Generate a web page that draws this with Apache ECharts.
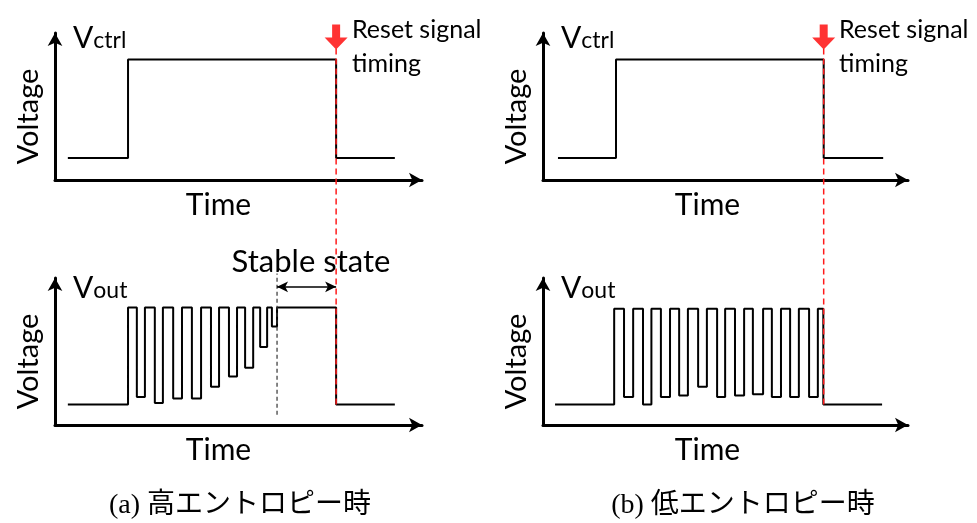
<!DOCTYPE html>
<html>
<head>
<meta charset="utf-8">
<script src="https://cdn.jsdelivr.net/npm/echarts@6/dist/echarts.min.js"></script>
<style>
html,body{margin:0;padding:0;background:#fff;}
#c{width:977px;height:523px;}
</style>
</head>
<body>
<div id="c"></div>
<script>
// ---- data (arbitrary time units 0..100, voltage units 0..10) ----
const vctrlA_t = [3.5, 19.9, 76.6, 92.6];
const vctrlA_v = [1.5, 8.2, 1.5, 1.5];
const vctrlB_t = [4.1, 20.0, 76.9, 93.2];
const vctrlB_v = [1.5, 8.2, 1.5, 1.5];

const voutA_t = [3.5, 19.9, 22.3, 24.5, 27.2, 29.4, 32.2, 34.6, 37.3, 39.8, 42.5, 44.7, 47.4, 49.6, 51.8, 54.0, 55.9, 57.8, 59.1, 60.5, 76.6, 92.6];
const voutA_v = [1.4, 8.0, 1.9, 8.0, 1.5, 8.0, 1.8, 8.0, 1.8, 8.0, 2.6, 8.0, 3.3, 8.0, 3.9, 8.0, 5.3, 8.0, 6.7, 8.0, 1.4, 1.4];

const voutB_t = [3.3, 19.5, 22.2, 24.7, 27.4, 29.7, 32.3, 34.8, 37.3, 39.7, 42.5, 44.9, 47.7, 49.9, 52.6, 55.1, 57.5, 60.3, 62.7, 65.2, 67.7, 70.1, 72.9, 75.3, 76.8, 92.9];
const voutB_v = [1.4, 7.9, 1.9, 7.9, 1.4, 7.9, 1.9, 7.9, 2.0, 7.9, 2.6, 7.9, 1.9, 7.9, 2.0, 7.9, 2.1, 7.9, 1.9, 7.9, 1.9, 7.9, 1.9, 7.9, 1.4, 1.4];

const resetA = 76.6, resetB = 76.9;
const stableStart = 60.5;
const stableArrowLevel = 9.4;
const resetLineRange = [1.4, 25.6];   // overlay voltage units
const resetArrowLevel = 26.4;
const labelsAxis = { x: 'Time', y: 'Voltage' };
const captions = ['(a) 高エントロピー時', '(b) 低エントロピー時'];

// ---- helpers ----
const zip = (t, v) => t.map((x, i) => [x, v[i]]);
const FONT = 'Lato, "Noto Sans", sans-serif';

function panelGrid(left, top, width) {
  return { left: left, top: top, width: width, height: 147, outerBoundsMode: 'none', containLabel: false };
}
function xAx(gi, shift) {
  return {
    gridIndex: gi, type: 'value', min: 0, max: 100,
    name: labelsAxis.x, nameLocation: 'middle', nameGap: 10,
    nameTextStyle: { fontFamily: FONT, fontSize: 30, color: '#000', verticalAlign: 'top', padding: [0, shift, 0, 0] },
    axisLine: { show: true, onZero: false, symbol: ['none', 'arrow'], symbolSize: [11, 13], lineStyle: { color: '#000', width: 3 } },
    axisTick: { show: false }, axisLabel: { show: false }, splitLine: { show: false }
  };
}
function yAx(gi) {
  return {
    gridIndex: gi, type: 'value', min: 0, max: 10,
    name: labelsAxis.y, nameLocation: 'middle', nameGap: 12, nameRotate: 90,
    nameTextStyle: { fontFamily: FONT, fontSize: 29, color: '#000', padding: [0, 20, 0, 0] },
    axisLine: { show: true, onZero: false, symbol: ['none', 'arrow'], symbolSize: [11, 13], lineStyle: { color: '#000', width: 3 } },
    axisTick: { show: false }, axisLabel: { show: false }, splitLine: { show: false }
  };
}
function hiddenX(gi) { return { gridIndex: gi, type: 'value', min: 0, max: 100, show: false }; }
function hiddenY(gi) { return { gridIndex: gi, type: 'value', min: 0, max: 27.55, show: false }; }

function stepSeries(xi, data) {
  return { type: 'line', xAxisIndex: xi, yAxisIndex: xi, data: data, step: 'end', symbol: 'none',
    lineStyle: { color: '#000', width: 2 }, animation: false, z: 3 };
}
const arrowPath = 'path://M6.5,0 L14.5,0 L14.5,13 L22,13 L10.5,25 L-1,13 L6.5,13 Z';
function resetSeries(xi, t) {
  return [
    { type: 'line', xAxisIndex: xi, yAxisIndex: xi, data: [[t, resetLineRange[0]], [t, resetLineRange[1]]],
      symbol: 'none', lineStyle: { color: '#ff1a1a', width: 1.5, type: [6, 4] }, animation: false, z: 10, silent: true },
    { type: 'scatter', xAxisIndex: xi, yAxisIndex: xi, data: [[t, resetArrowLevel]], symbol: arrowPath,
      symbolSize: [23, 25], symbolKeepAspect: false, itemStyle: { color: '#ff0000' }, animation: false, z: 10, silent: true }
  ];
}

function vLabel(x, y, sub) {
  return { type: 'text', x: x, y: y, style: {
    text: '{v|V}{s|' + sub + '}', align: 'left', verticalAlign: 'bottom',
    rich: { v: { fontFamily: FONT, fontSize: 30, fill: '#000', verticalAlign: 'bottom' },
            s: { fontFamily: FONT, fontSize: 23, fill: '#000', verticalAlign: 'bottom', padding: [0, 0, 1, 0] } } } };
}
function resetLabel(x) {
  return { type: 'text', x: x, y: 47, style: { text: 'Reset signal\ntiming', fontFamily: FONT, fontSize: 25,
    lineHeight: 34, fill: '#000', align: 'left', verticalAlign: 'middle' } };
}

const chart = echarts.init(document.getElementById('c'), null, { renderer: 'canvas' });
chart.setOption({
  backgroundColor: '#fff',
  animation: false,
  grid: [
    panelGrid(55, 33, 367), panelGrid(55, 278, 367),
    panelGrid(543, 33, 365), panelGrid(543, 278, 365),
    { left: 55, top: 20, width: 367, height: 405, outerBoundsMode: 'none' },
    { left: 543, top: 20, width: 365, height: 405, outerBoundsMode: 'none' }
  ],
  xAxis: [xAx(0, 40), xAx(1, 40), xAx(2, 36), xAx(3, 36), hiddenX(4), hiddenX(5)],
  yAxis: [yAx(0), yAx(1), yAx(2), yAx(3), hiddenY(4), hiddenY(5)],
  series: [
    stepSeries(0, zip(vctrlA_t, vctrlA_v)),
    stepSeries(1, zip(voutA_t, voutA_v)),
    stepSeries(2, zip(vctrlB_t, vctrlB_v)),
    stepSeries(3, zip(voutB_t, voutB_v)),
    { type: 'line', xAxisIndex: 1, yAxisIndex: 1, data: [[stableStart, 0.7], [stableStart, 10.3]], clip: false,
      symbol: 'none', lineStyle: { color: '#333', width: 1.2, type: [4, 3] }, animation: false, z: 4,
      markLine: { silent: true, symbol: ['arrow', 'arrow'], symbolSize: [8, 11], animation: false,
        lineStyle: { color: '#000', width: 1.5, type: 'solid' }, label: { show: false },
        data: [[{ coord: [stableStart, stableArrowLevel] }, { coord: [resetA, stableArrowLevel] }]] } },
    ...resetSeries(4, resetA),
    ...resetSeries(5, resetB)
  ],
  graphic: [
    vLabel(73, 53, 'ctrl'), vLabel(73, 303, 'out'),
    vLabel(561, 53, 'ctrl'), vLabel(561, 303, 'out'),
    resetLabel(352), resetLabel(839),
    { type: 'text', x: 311, y: 262, style: { text: 'Stable state', fontFamily: FONT, fontSize: 31, fill: '#000', align: 'center', verticalAlign: 'middle' } },
    { type: 'text', x: 240, y: 506, style: { text: captions[0], fontFamily: '"Liberation Serif", "Noto Sans CJK JP", serif', fontSize: 28, fill: '#000', align: 'center', verticalAlign: 'middle' } },
    { type: 'text', x: 743, y: 506, style: { text: captions[1], fontFamily: '"Liberation Serif", "Noto Sans CJK JP", serif', fontSize: 28, fill: '#000', align: 'center', verticalAlign: 'middle' } }
  ]
});
</script>
</body>
</html>
